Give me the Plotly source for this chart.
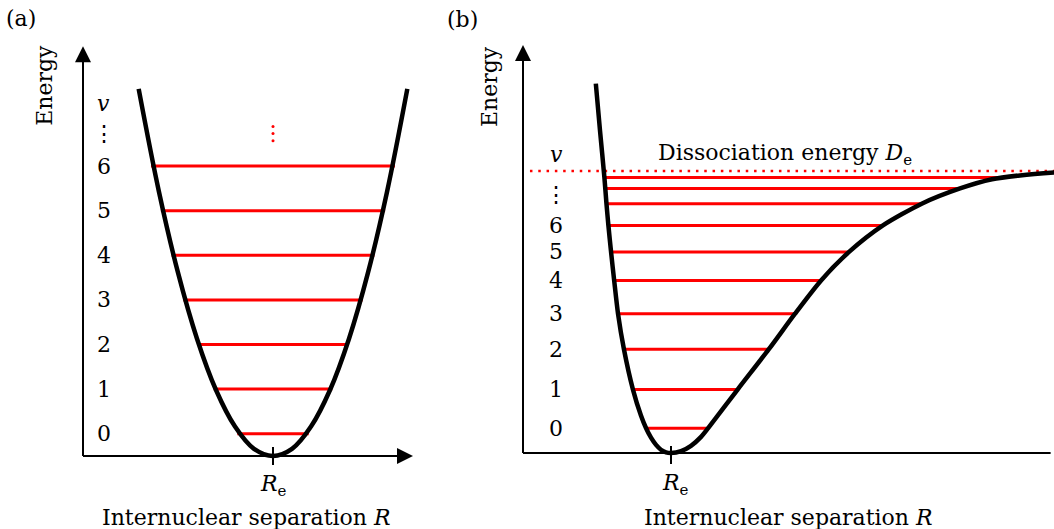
import plotly.graph_objects as go

# ---------------- data: panel (a) harmonic oscillator ----------------
# R in units of R_e, energy in units of hbar*omega
A_CURVE_R = [0.293, 0.40, 0.50, 0.60, 0.70, 0.80, 0.90, 1.00, 1.10, 1.20, 1.30, 1.40, 1.50, 1.60, 1.707]
A_CURVE_E = [8.23, 5.92, 4.11, 2.63, 1.48, 0.66, 0.16, 0.00, 0.16, 0.66, 1.48, 2.63, 4.11, 5.92, 8.23]
A_LEVEL_V = [0, 1, 2, 3, 4, 5, 6]
A_LEVEL_E = [0.5, 1.5, 2.5, 3.5, 4.5, 5.5, 6.5]
A_LEVEL_LEFT = [0.812, 0.688, 0.600, 0.528, 0.466, 0.410, 0.358]
A_LEVEL_RIGHT = [1.188, 1.312, 1.400, 1.472, 1.534, 1.590, 1.642]
A_DOTS_E = [7.07, 7.23, 7.39]
A_RE = 1.0
A_E_TOP = 9.19     # top of energy axis
A_R_END = 1.7368   # end of R axis

# ---------------- data: panel (b) anharmonic (Morse-like) ----------------
# R in units of R_e, energy in units of D_e
B_CURVE_R = [0.492, 0.520, 0.550, 0.564, 0.577, 0.595, 0.616, 0.642, 0.682, 0.743,
             0.797, 0.831, 0.865, 0.899, 0.932, 0.966, 1.000,
             1.068, 1.135, 1.203, 1.251, 1.450, 1.661, 1.838, 2.014, 2.203, 2.432,
             2.694, 2.953, 3.169, 3.358, 3.588, 3.70]
B_CURVE_E = [1.310, 1.145, 0.977, 0.884, 0.807, 0.713, 0.612, 0.494, 0.368, 0.225,
             0.133, 0.0887, 0.0543, 0.0287, 0.0117, 0.0025, 0.000,
             0.0064, 0.0252, 0.0571, 0.088, 0.225, 0.368, 0.494, 0.612, 0.713, 0.807,
             0.884, 0.938, 0.9706, 0.9844, 0.9947, 0.998]
B_LEVEL_V = [0, 1, 2, 3, 4, 5, 6]
B_LEVEL_E = [0.088, 0.225, 0.368, 0.494, 0.612, 0.713, 0.807, 0.884, 0.938, 0.977]
B_LEVEL_LEFT = [0.833, 0.743, 0.682, 0.642, 0.616, 0.595, 0.577, 0.564, 0.555, 0.550]
B_LEVEL_RIGHT = [1.251, 1.450, 1.661, 1.838, 2.014, 2.203, 2.432, 2.694, 2.953, 3.250]
B_DE = 1.0
B_RE = 1.0
B_E_TOP = 1.447
B_R_END = 3.615

FONT = "DejaVu Serif"
FS = 22
SUB = 15
RED = "#ff0000"

fig = go.Figure()


def segs(lefts, rights, ys):
    xs, yy = [], []
    for l, r, y in zip(lefts, rights, ys):
        xs += [l, r, None]
        yy += [y, y, None]
    return xs, yy


def axes_arrows(xa, ya, r_end, e_top, dr, de):
    fig.add_trace(go.Scatter(x=[0, 0, None, 0, r_end - dr], y=[e_top - de, 0, None, 0, 0],
                             mode="lines", line=dict(color="black", width=2),
                             xaxis=xa, yaxis=ya, hoverinfo="skip"))
    fig.add_trace(go.Scatter(x=[0], y=[e_top], mode="markers",
                             marker=dict(symbol="arrow-up", size=16, color="black",
                                         line=dict(width=0)),
                             cliponaxis=False, xaxis=xa, yaxis=ya, hoverinfo="skip"))
    fig.add_trace(go.Scatter(x=[r_end], y=[0], mode="markers",
                             marker=dict(symbol="arrow-right", size=16, color="black",
                                         line=dict(width=0)),
                             cliponaxis=False, xaxis=xa, yaxis=ya, hoverinfo="skip"))


# panel (a)
axes_arrows("x", "y", A_R_END, A_E_TOP, 0.04, 0.18)
xs, ys = segs(A_LEVEL_LEFT, A_LEVEL_RIGHT, A_LEVEL_E)
fig.add_trace(go.Scatter(x=xs, y=ys, mode="lines", line=dict(color=RED, width=3),
                         xaxis="x", yaxis="y", hoverinfo="skip"))
fig.add_trace(go.Scatter(x=A_CURVE_R, y=A_CURVE_E, mode="lines",
                         line=dict(color="black", width=4.5, shape="spline", smoothing=1.0),
                         xaxis="x", yaxis="y", hoverinfo="skip"))
fig.add_trace(go.Scatter(x=[A_RE] * len(A_DOTS_E), y=A_DOTS_E, mode="markers",
                         marker=dict(color=RED, size=3), xaxis="x", yaxis="y", hoverinfo="skip"))
fig.add_trace(go.Scatter(x=[A_RE, A_RE], y=[0.2, -0.2], mode="lines",
                         line=dict(color="black", width=2), xaxis="x", yaxis="y", hoverinfo="skip"))

# panel (b)
axes_arrows("x2", "y2", B_R_END, B_E_TOP, 0.05, 0.03)
fig.add_trace(go.Scatter(x=[0.047, 3.7], y=[B_DE, B_DE], mode="lines",
                         line=dict(color=RED, width=2.5, dash="2.5px,5.8px"),
                         xaxis="x2", yaxis="y2", hoverinfo="skip"))
xs, ys = segs(B_LEVEL_LEFT, B_LEVEL_RIGHT, B_LEVEL_E)
fig.add_trace(go.Scatter(x=xs, y=ys, mode="lines", line=dict(color=RED, width=3),
                         xaxis="x2", yaxis="y2", hoverinfo="skip"))
fig.add_trace(go.Scatter(x=B_CURVE_R, y=B_CURVE_E, mode="lines",
                         line=dict(color="black", width=4.5, shape="spline", smoothing=0.7),
                         xaxis="x2", yaxis="y2", hoverinfo="skip"))
fig.add_trace(go.Scatter(x=[B_RE, B_RE], y=[0.025, -0.039], mode="lines",
                         line=dict(color="black", width=2), xaxis="x2", yaxis="y2", hoverinfo="skip"))

ann = []


def it(s):
    return '<span style="font-style:italic;font-size:%dpx">%s</span>' % (FS, s)


def sub(s):
    return '<sub><span style="font-size:%dpx">%s</span></sub>' % (SUB, s)


def txt(xref, yref, x, y, text, size=FS, color="black", angle=0, xanchor="center"):
    ann.append(dict(xref=xref, yref=yref, x=x, y=y, text=text, showarrow=False,
                    font=dict(family=FONT, size=size, color=color), textangle=angle,
                    xanchor=xanchor, yanchor="middle"))


# texts (a)
txt("x", "y", -0.326, 9.80, "(a)")
txt("x", "y", -0.20, 8.30, "Energy", angle=-90)
txt("x", "y", 0.108, 7.91, it("v"))
txt("x", "y", 0.111, 7.22, "⋮")
for v, e in zip(A_LEVEL_V, A_LEVEL_E):
    txt("x", "y", 0.111, e, str(v))
txt("x", "y", 1.005, -0.67, it("R") + sub("e"))
txt("x", "y", 0.863, -1.39, "Internuclear separation " + it("R"))

# texts (b)
txt("x2", "y2", -0.412, 1.539, "(b)")
txt("x2", "y2", -0.23, 1.301, "Energy", angle=-90)
txt("x2", "y2", 0.223, 1.057, it("v"))
txt("x2", "y2", 0.223, 0.915, "⋮")
for v, e in zip(B_LEVEL_V, B_LEVEL_E):
    txt("x2", "y2", 0.223, e, str(v))
txt("x2", "y2", 1.77, 1.057, "Dissociation energy " + it("D") + sub("e"))
txt("x2", "y2", 1.027, -0.11, it("R") + sub("e"))
txt("x2", "y2", 1.797, -0.23, "Internuclear separation " + it("R"))

W, H = 1054, 529
hidden = dict(visible=False, showgrid=False, zeroline=False, fixedrange=True)
fig.update_layout(
    width=W, height=H, margin=dict(l=0, r=0, t=0, b=0),
    paper_bgcolor="white", plot_bgcolor="white", showlegend=False,
    xaxis=dict(domain=[0, 440 / W], range=[-83 / 190, 357 / 190], **hidden),
    yaxis=dict(domain=[0, 1], range=[-73 / 44.6, 456 / 44.6], **hidden),
    xaxis2=dict(domain=[440 / W, 1], range=[-83 / 148, 531 / 148], **hidden),
    yaxis2=dict(domain=[0, 1], range=[-76 / 282, 453 / 282], anchor="x2", **hidden),
    annotations=ann,
)
fig.write_html("out.html")
